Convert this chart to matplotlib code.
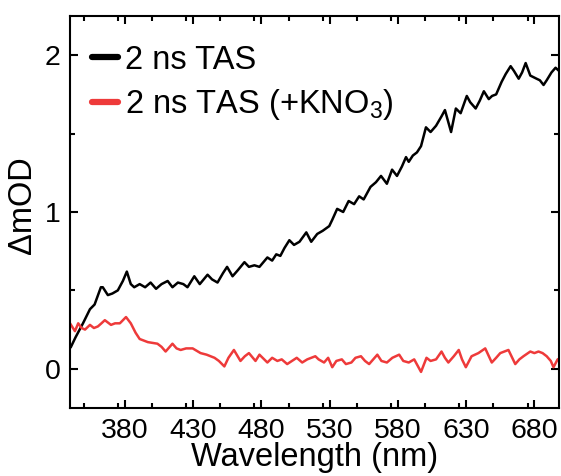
import matplotlib
matplotlib.use("Agg")
import matplotlib.pyplot as plt
from matplotlib.ticker import MultipleLocator

plt.rcParams['font.family'] = ['Liberation Sans', 'DejaVu Sans']
plt.rcParams['mathtext.fontset'] = 'custom'
plt.rcParams['mathtext.rm'] = 'Liberation Sans'
plt.rcParams['mathtext.it'] = 'Liberation Sans'
plt.rcParams['mathtext.default'] = 'regular'

# Transient absorption spectra at 2 ns (wavelength in nm, signal in mOD)
wl_tas = [340.7, 344, 349.5, 354.6, 358, 362.6, 364, 367.7, 371, 375, 378.7, 381.6,
          384.5, 387, 391, 395, 399, 403, 407, 411.5, 415, 419, 423, 426, 431,
          435, 440.7, 444, 448, 452, 455, 459, 463, 467.7, 471, 475, 478.7, 484.5,
          488, 491, 494, 497, 500.6, 504, 508, 513, 516.6, 521, 525, 529.8, 532,
          535.6, 540, 544, 548, 551.7, 555, 560, 564, 567.7, 572, 575.8, 579.4,
          583, 586, 588, 591, 594, 597, 600.6, 604, 608, 612, 614.5, 619, 622.5,
          626, 630.5, 633, 637, 640, 643, 646.6, 649, 652, 656, 659, 662.6, 665,
          668.5, 671, 673.6, 677, 681.6, 684, 686.7, 689, 692.5, 695.5, 698]
tas = [0.14, 0.20, 0.29, 0.38, 0.41, 0.52, 0.52, 0.47, 0.48, 0.50, 0.56, 0.62,
       0.54, 0.52, 0.54, 0.52, 0.55, 0.51, 0.54, 0.56, 0.52, 0.55, 0.54, 0.52, 0.59,
       0.54, 0.60, 0.57, 0.55, 0.61, 0.65, 0.59, 0.63, 0.68, 0.65, 0.66, 0.65, 0.71,
       0.69, 0.73, 0.72, 0.77, 0.82, 0.79, 0.81, 0.87, 0.81, 0.86, 0.88, 0.91, 0.95,
       1.02, 1.00, 1.07, 1.05, 1.10, 1.08, 1.16, 1.19, 1.23, 1.18, 1.27, 1.23,
       1.29, 1.35, 1.32, 1.36, 1.38, 1.42, 1.54, 1.51, 1.55, 1.61, 1.65, 1.51, 1.66,
       1.63, 1.74, 1.70, 1.66, 1.71, 1.77, 1.72, 1.74, 1.75, 1.83, 1.88, 1.93, 1.90,
       1.85, 1.89, 1.95, 1.87, 1.85, 1.84, 1.81, 1.84, 1.89, 1.92, 1.90]

wl_kno3 = [340, 343.6, 346, 348.5, 351, 354.6, 357.5, 360.4, 363, 365.5, 370, 373,
           376.5, 381, 384.5, 388, 391, 397, 404, 407, 410, 415, 418, 421, 425,
           429.8, 435.6, 440, 445.8, 449, 453, 456, 460, 464.8, 468, 471, 475.8,
           478.7, 484.5, 488, 491.8, 495, 499, 506, 510, 513.7, 519.6, 522, 526, 529,
           532, 535, 539, 542, 546, 549, 553, 556, 559, 562, 565, 568, 572, 576, 581,
           584, 588, 592, 597, 601, 604, 608, 612, 614.5, 617, 621, 624.6, 627,
           629.8, 634, 639, 644, 648.8, 652, 655, 661, 666, 669, 672, 677, 680, 683,
           686, 689, 692, 694, 697, 700]
kno3 = [0.29, 0.24, 0.29, 0.26, 0.25, 0.28, 0.26, 0.27, 0.29, 0.31, 0.28, 0.29,
        0.29, 0.33, 0.29, 0.23, 0.19, 0.17, 0.16, 0.14, 0.11, 0.16, 0.13, 0.12, 0.13,
        0.13, 0.10, 0.09, 0.07, 0.05, 0.015, 0.07, 0.12, 0.05, 0.08, 0.10, 0.05,
        0.09, 0.04, 0.07, 0.05, 0.06, 0.03, 0.07, 0.04, 0.06, 0.08, 0.06, 0.04, 0.07,
        0.01, 0.05, 0.06, 0.03, 0.04, 0.07, 0.08, 0.05, 0.03, 0.06, 0.09, 0.05,
        0.04, 0.07, 0.09, 0.05, 0.04, 0.06, -0.02, 0.07, 0.05, 0.06, 0.11, 0.07,
        0.04, 0.08, 0.12, 0.06, 0.01, 0.08, 0.10, 0.13, 0.04, 0.07, 0.10, 0.12, 0.03,
        0.06, 0.08, 0.11, 0.10, 0.11, 0.10, 0.08, 0.05, 0.01, 0.06, 0.07]

labels = ["2 ns TAS", "2 ns TAS (+KNO$_3$)"]
colors = ["#000000", "#ee3a3a"]

fig = plt.figure(figsize=(5.61, 4.76), dpi=100)
ax = fig.add_axes([0.1248, 0.1429, 0.8716, 0.8235])

ax.plot(wl_tas, tas, color=colors[0], lw=1.8, label=labels[0])
ax.plot(wl_kno3, kno3, color=colors[1], lw=1.8, label=labels[1])

ax.set_xlim(340, 698)
ax.set_ylim(-0.25, 2.25)
ax.set_xticks([380, 430, 480, 530, 580, 630, 680])
ax.xaxis.set_minor_locator(MultipleLocator(25))
ax.yaxis.set_major_locator(MultipleLocator(1))
ax.yaxis.set_minor_locator(MultipleLocator(0.5))

for s in ax.spines.values():
    s.set_linewidth(1.5)
ax.tick_params(which='both', direction='in', top=True, right=True, width=1.5,
               labelsize=20.5, pad=7)
ax.tick_params(which='major', length=6)
ax.tick_params(which='minor', length=3.5)

ax.set_xlabel("Wavelength (nm)", fontsize=23.5, labelpad=-1.5)
ax.set_ylabel("ΔmOD", fontsize=23.5)
ax.yaxis.set_label_coords(-0.066, 0.518)

leg = ax.legend(loc='upper left', bbox_to_anchor=(0.045, 0.927), frameon=False,
                fontsize=23.5, handlelength=0.8, handletextpad=0.2,
                labelspacing=0.35, borderaxespad=0, borderpad=0)
for h in leg.get_lines():
    h.set_linewidth(4.5)
    h.set_solid_capstyle('round')

fig.savefig("out.png", dpi=100)
